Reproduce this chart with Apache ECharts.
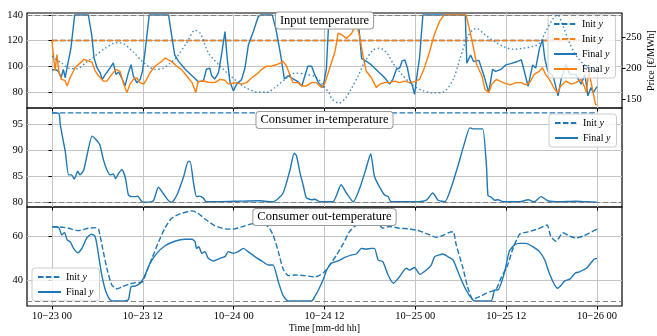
<!DOCTYPE html>
<html>
<head>
<meta charset="utf-8">
<script src="https://cdn.jsdelivr.net/npm/echarts@6/dist/echarts.min.js"></script>
<style>
  html, body { margin: 0; padding: 0; background: #fff; }
  #chart { width: 657px; height: 336px; }
</style>
</head>
<body>
<div id="chart"></div>
<script>
// Time axis: hours since 10-23 00
const xTickHours = [0, 12, 24, 36, 48, 60, 72];
const xTickLabels = ['10\u221223 00', '10\u221223 12', '10\u221224 00', '10\u221224 12', '10\u221225 00', '10\u221225 12', '10\u221226 00'];

// Axis ticks
const inputTicks = [80, 100, 120, 140];
const priceTicks = [150, 200, 250];
const inTempTicks = [80, 85, 90, 95];
const outTempTicks = [40, 60];

// Temperature bounds (dashed grey lines)
const inputUpperBound = 140;
const inTempLowerBound = 80;
const outTempLowerBound = 30;

// Input temperature, initial guess (both producers)
const inputInitH = [0, 72];
const inputInitBlueV = [120, 120];
const inputInitOrangeV = [120, 120];

// Input temperature, optimised, producer 1 (blue)
const inputFinalBlueH = [0, 0.45, 0.85, 1.2, 1.5, 1.75, 2.0, 2.2, 2.5, 3.0, 4.8, 5.25, 5.55, 5.95, 6.35, 6.65, 7.05, 7.7, 8.1, 8.45, 8.8, 9.3, 9.65, 10.1, 10.45, 10.75, 11.2, 11.65, 11.95, 12.3, 12.85, 15.4, 15.8, 16.2, 16.7, 17.6, 18.5, 19.3, 20.0, 20.4, 20.85, 21.1, 21.5, 22.0, 22.4, 22.85, 23.15, 23.5, 23.95, 24.4, 25.05, 25.5, 25.95, 26.6, 27.25, 27.6, 29.1, 29.65, 30.2, 30.7, 31.2, 31.9, 32.5, 33.0, 33.8, 34.3, 34.7, 35.2, 35.8, 36.25, 36.6, 40.4, 40.9, 41.3, 42.2, 43.05, 43.95, 44.6, 45.05, 45.5, 45.95, 46.25, 46.6, 46.95, 47.25, 47.55, 47.9, 48.15, 48.55, 49.0, 54.6, 54.8, 55.3, 55.7, 56.4, 57.1, 57.7, 58.2, 58.6, 59.3, 59.95, 60.6, 61.5, 62.0, 62.9, 63.5, 63.9, 64.4, 64.8, 65.1, 65.5, 66.2, 66.85, 67.3, 67.9, 68.4, 69.2, 69.9, 70.4, 70.8, 71.2, 71.5, 72];
const inputFinalBlueV = [97, 97.5, 96, 91, 97.5, 91, 99, 100, 114, 140, 140, 124.5, 106.5, 98.8, 95, 89.7, 93.6, 98.8, 102.6, 93.6, 95.5, 89.7, 84.6, 95, 101.2, 92.3, 87.2, 89.7, 96, 111.7, 140, 140, 124.5, 109, 104, 97.6, 92.5, 88, 88.5, 97.6, 98.5, 92.5, 90, 95, 109, 127, 106, 88, 80.8, 86, 89.7, 98.8, 116.8, 127, 138.7, 140, 140, 127, 109, 90, 92.5, 90, 88, 84.6, 100, 100, 93.6, 87.2, 83.3, 98, 140, 140, 106, 104.8, 101, 96, 91, 86, 90, 97.6, 98.8, 104, 105, 98.8, 89.7, 86, 78.1, 90, 106.4, 140, 140, 102.4, 108.8, 103.7, 104.5, 92, 79.5, 97.5, 96, 97.5, 101, 102, 103.7, 105, 84.4, 101, 98.5, 113.9, 120.7, 106, 96.2, 92.4, 76.9, 91, 101.3, 93.6, 93.6, 85.9, 93.6, 76.9, 83.3, 79.4, 84];

// Input temperature, optimised, producer 2 (orange)
const inputFinalOrangeH = [0, 0.4, 0.65, 0.9, 1.25, 1.7, 2.0, 2.4, 3.05, 3.75, 4.2, 4.85, 5.3, 5.7, 6.15, 6.8, 7.25, 7.9, 8.45, 9.0, 9.4, 9.9, 10.3, 10.75, 11.2, 11.6, 12.1, 12.5, 12.95, 13.6, 14.5, 14.95, 15.4, 16.0, 16.7, 17.1, 17.8, 18.5, 19.0, 19.3, 20.0, 20.65, 21.5, 22.2, 22.85, 23.3, 23.7, 24.4, 25.05, 25.7, 26.4, 27.0, 27.7, 28.35, 29.0, 29.7, 30.2, 30.5, 31.0, 31.4, 31.85, 32.5, 33.0, 33.6, 34.3, 34.9, 35.6, 36.0, 36.5, 36.7, 37.4, 37.8, 38.3, 38.9, 39.6, 40.2, 40.65, 41.1, 41.5, 42.2, 42.85, 43.3, 43.95, 44.6, 45.3, 45.9, 46.6, 47.25, 47.9, 48.55, 49.2, 49.9, 50.5, 51.2, 51.8, 54.7, 55.26, 55.7, 56.1, 56.8, 57.2, 57.7, 58.1, 58.7, 59.6, 60.5, 61.3, 62.0, 62.6, 63.1, 63.7, 64.4, 64.8, 65.2, 65.7, 66.4, 66.8, 67.2, 67.9, 68.6, 69.2, 69.9, 70.3, 70.6, 70.9, 71.3, 71.8, 72];
const inputFinalOrangeV = [120, 96.3, 109, 96, 89.7, 89, 84.6, 91, 98.8, 102.6, 105.2, 104, 103, 96.3, 92.5, 88.4, 88.4, 93.6, 97.5, 96, 87.2, 79.4, 86, 89.7, 91, 87.2, 86, 89.7, 94.9, 100, 103.9, 106.4, 105, 102.6, 99, 97.5, 92.4, 87.2, 79.4, 88, 88.5, 87.5, 87.2, 89.7, 89, 86, 86.5, 87.2, 86, 87.2, 91, 93.6, 97.5, 100, 100, 101.3, 102.6, 104, 100, 93.6, 87.2, 87.2, 84.6, 84.6, 87.2, 87.2, 83.3, 86, 95, 98.8, 111.7, 125.8, 124.5, 121.7, 125.8, 133.6, 123, 107.7, 96.3, 91, 83.3, 86, 87.2, 87.2, 88.4, 87.2, 88.4, 87.2, 88, 89.7, 98.8, 111.7, 124.5, 135, 140, 140, 126, 114, 101.3, 92.4, 82, 79.4, 86, 89.7, 87.2, 85.5, 87.2, 87.2, 85.5, 87.2, 93.6, 96.2, 98.8, 93.6, 89.7, 82, 79.4, 84.6, 88.4, 86, 87.2, 89.7, 84.6, 79.4, 96, 85, 70, 70];

// Electricity price (right axis)
const priceH = [0, 1.3, 2.2, 3.3, 4.6, 5.5, 7.0, 8.5, 9.5, 10.75, 12.0, 13.6, 14.7, 15.5, 16.5, 17.8, 18.9, 19.6, 20.7, 22.4, 24.0, 25.5, 27.3, 28.4, 29.5, 30.8, 32.1, 33.5, 34.8, 35.9, 36.6, 37.0, 37.9, 38.8, 39.6, 40.5, 41.3, 42.4, 43.3, 44.2, 45.1, 46.2, 47.5, 48.9, 50.4, 51.8, 53.0, 53.9, 54.8, 55.6, 56.1, 57.0, 58.2, 59.6, 60.9, 62.2, 63.5, 64.4, 65.3, 66.2, 66.8, 67.5, 68.4, 69.2, 70.1, 70.9, 72];
const priceV = [219, 208, 200, 199, 210, 218, 232, 241, 239, 226, 210, 198, 200, 207, 218, 241, 261, 256, 224, 201, 183, 169, 161, 161, 169, 182, 192, 190, 186, 171, 160, 150, 143.5, 152, 168, 189, 210, 229, 232, 225, 207, 190, 174, 164, 160, 162, 182, 215, 248, 262, 264, 256, 245, 235, 230.5, 232, 235, 240, 261, 280, 286, 268, 240, 221, 208, 200, 196];

// Consumer in-temperature
const inTempInitH = [0, 72];
const inTempInitV = [97.3, 97.3];
const inTempFinalH = [0, 0.9, 1.1, 1.5, 1.75, 2.2, 2.6, 2.95, 3.4, 3.7, 4.2, 4.6, 5.3, 5.7, 6.3, 6.8, 7.25, 7.7, 8.1, 8.4, 8.8, 9.25, 9.7, 10.1, 10.55, 11.0, 11.3, 11.9, 12.5, 13.4, 14.05, 14.7, 15.4, 15.8, 16.5, 17.4, 18.0, 18.25, 18.7, 19.1, 19.5, 20.0, 20.4, 24.2, 27.5, 28.1, 29.2, 30.5, 31.4, 32.0, 32.3, 32.75, 33.2, 33.6, 34.3, 34.7, 35.4, 37.1, 38.2, 38.9, 39.8, 40.7, 41.5, 42.1, 42.6, 43.3, 43.95, 44.4, 44.8, 48.1, 49.45, 50.3, 51.0, 51.9, 52.75, 53.6, 54.5, 55.2, 55.6, 56.3, 56.9, 57.4, 57.6, 58.0, 58.5, 58.9, 59.6, 61.8, 62.9, 63.7, 64.6, 65.5, 67.0, 69.2, 70.6, 72];
const inTempFinalV = [97.3, 97.2, 95, 91.8, 89.9, 85.3, 85.3, 84.5, 86, 85.3, 86.3, 88.9, 92.8, 92.3, 91.2, 88.2, 86.3, 85.3, 85.5, 84.6, 85.6, 86.3, 84.7, 81.4, 81.1, 81.1, 81.2, 80.1, 80, 80.3, 82.9, 81.7, 80.3, 80, 81.4, 85, 87.9, 87.9, 83.7, 81.1, 81.2, 80.8, 80.1, 80.2, 80.3, 80.2, 80.1, 81.7, 86, 89.5, 89, 85.8, 83.2, 80.9, 80.5, 80.6, 80.1, 80.1, 83.4, 81.8, 80.1, 82.9, 86.6, 89.4, 85, 82.9, 81.4, 81.1, 80.1, 80.1, 80.4, 81.8, 80.4, 80.1, 82.9, 86.9, 91.5, 94.4, 94.2, 94.2, 94.2, 86.9, 81.3, 81, 80.4, 80.5, 80.1, 80.1, 80.5, 80.1, 81.1, 80.3, 80.1, 80.2, 80.1, 80];

// Consumer out-temperature
const outTempInitH = [0, 1.1, 2.2, 3.5, 4.8, 5.8, 6.15, 6.6, 7.25, 7.9, 8.6, 9.2, 10.1, 11.0, 11.9, 12.5, 13.2, 14.1, 14.9, 15.8, 16.9, 18.5, 19.3, 20.4, 21.5, 22.85, 23.95, 25.05, 26.4, 27.5, 28.56, 29.2, 29.9, 30.5, 31.2, 32.1, 33.4, 34.7, 35.4, 36.0, 36.7, 37.6, 38.5, 39.3, 40.2, 41.3, 42.4, 43.1, 43.7, 44.6, 45.9, 47.25, 48.6, 49.9, 50.8, 51.6, 52.5, 53.0, 53.4, 54.3, 54.9, 55.6, 56.5, 57.4, 58.2, 58.7, 59.3, 60.2, 60.9, 61.8, 62.9, 64.2, 65.4, 65.9, 66.6, 67.5, 68.4, 69.2, 70.1, 71.0, 72];
const outTempInitV = [64.6, 64.5, 63.9, 62.8, 63.9, 64.2, 63.5, 56.2, 45.4, 37.7, 35.9, 36.8, 38, 38.8, 39, 43.8, 50, 57.7, 63.9, 68.5, 70.5, 71.9, 70.8, 67.7, 65.1, 63.6, 63.5, 64.5, 65.9, 66.2, 64.6, 60.8, 53.1, 45.4, 42, 42.3, 42, 41.4, 42.3, 43.8, 46.9, 51.6, 56.9, 62.3, 65.4, 67.7, 68.2, 66.2, 63.9, 64.7, 63.9, 63.6, 62.6, 60.8, 59.7, 60.5, 62, 62.3, 56.2, 45.4, 36.9, 31.1, 32.3, 33.9, 35, 35.9, 40.8, 46.9, 54.6, 61.2, 62.2, 63.6, 65.4, 60, 57.9, 61.8, 60.2, 59.4, 60.2, 61.7, 63.5];
const outTempFinalH = [0, 0.9, 1.3, 1.65, 2.0, 2.4, 2.85, 3.4, 3.95, 4.6, 5.2, 5.7, 6.15, 6.5, 7.05, 7.7, 8.35, 9.65, 10.1, 10.45, 11.0, 11.65, 12.3, 12.95, 13.85, 14.9, 16.3, 17.6, 18.5, 18.9, 19.1, 19.4, 19.8, 20.2, 20.65, 21.3, 22.2, 22.85, 23.3, 23.95, 24.6, 25.3, 25.9, 26.8, 27.7, 28.6, 29.2, 29.9, 30.5, 31.2, 34.3, 34.7, 35.2, 35.8, 36.3, 36.9, 37.8, 38.7, 39.6, 40.2, 40.9, 41.5, 42.2, 42.6, 43.1, 43.7, 44.4, 45.1, 45.9, 46.8, 47.25, 47.9, 48.6, 49.45, 50.1, 50.55, 51.2, 51.6, 52.3, 53.0, 53.8, 54.7, 55.6, 56.0, 58.0, 58.5, 58.9, 59.8, 60.4, 61.1, 61.8, 62.6, 63.5, 64.4, 65.1, 65.7, 66.4, 66.8, 67.3, 67.7, 68.4, 69.1, 69.7, 70.6, 71.6, 72];
const outTempFinalV = [64.6, 64.2, 60.8, 62, 58.5, 57.7, 54.6, 52.6, 54.6, 59.4, 61.2, 60.2, 51.6, 43.8, 35.4, 30.8, 30.3, 30.3, 31, 36.9, 37.2, 38.5, 42.3, 47.7, 52.3, 55.7, 58, 58.8, 58.8, 57.7, 54.6, 55.4, 52.3, 53.1, 50, 48.8, 50, 50.8, 53.1, 52.3, 53.1, 54.6, 53.1, 50.8, 48.8, 46.9, 46.9, 39.2, 33.1, 30.3, 30.3, 32.3, 35.4, 40, 44.6, 47.7, 48.8, 50.4, 51.6, 52, 54.6, 54.2, 54.6, 54.6, 49.2, 48.5, 42.3, 38.5, 41.5, 45.4, 44.6, 45.8, 42.6, 44.6, 46.9, 50.8, 51.6, 52, 50.8, 49.2, 42.3, 35.4, 30.8, 30.3, 30.3, 35.4, 35.4, 43.8, 53.1, 56.2, 56.9, 56.9, 55.4, 53.1, 49.2, 43.1, 37.7, 36.2, 37.7, 39.5, 40.4, 43.1, 43.8, 45.4, 49.6, 50];

const BLUE = '#1f77b4';
const ORANGE = '#ff7f0e';
const FONT = '"Liberation Serif", "DejaVu Serif", serif';
const GRID_COLOR = '#c4c4c4';

const zip = (h, v) => h.map((t, i) => [t, v[i]]);

const legendNames = {
  inInitBlue: 'Init {it|y}', inInitOrange: 'Init {it|y}',
  inFinalBlue: 'Final {it|y}', inFinalOrange: 'Final {it|y}',
  ctInInit: 'Init {it|y}', ctInFinal: 'Final {it|y}',
  ctOutInit: 'Init {it|y}', ctOutFinal: 'Final {it|y}'
};

function boundLine(value) {
  return {
    silent: true, symbol: 'none', animation: false,
    label: { show: false },
    lineStyle: { color: '#808080', type: [5, 3], width: 1.2 },
    data: [{ yAxis: value }]
  };
}

function lineSeries(name, h, v, color, dash, xi, yi, extra) {
  return Object.assign({
    name, type: 'line', xAxisIndex: xi, yAxisIndex: yi,
    data: zip(h, v), showSymbol: false, symbol: 'none',
    animation: false, z: 2,
    lineStyle: { color, width: 1.4, type: dash },
    itemStyle: { color }
  }, extra || {});
}

const xBase = {
  type: 'value', min: -3.3, max: 75.3,
  axisLine: { show: false },
  axisTick: { show: true, length: 3.5, lineStyle: { color: '#000' }, customValues: xTickHours },
  splitLine: { show: true, lineStyle: { color: GRID_COLOR, width: 1 } },
  axisLabel: {
    show: false, customValues: xTickHours,
    formatter: v => xTickLabels[xTickHours.indexOf(v)] || ''
  }
};

function yBase(grid, min, max, ticks, extra) {
  return Object.assign({
    type: 'value', gridIndex: grid, min, max,
    axisLine: { show: false },
    axisTick: { show: true, length: 3.5, lineStyle: { color: '#000' }, customValues: ticks },
    splitLine: { show: true, lineStyle: { color: GRID_COLOR, width: 1 } },
    axisLabel: { customValues: ticks, fontFamily: FONT, fontSize: 10.5, color: '#000', margin: 4 }
  }, extra || {});
}

function legendBox(keys, left, top) {
  return {
    data: keys, left, top, orient: 'vertical',
    itemWidth: 23, itemHeight: 10, itemGap: 5,
    padding: [4, 6, 4, 5],
    backgroundColor: 'rgba(255,255,255,0.8)',
    borderColor: '#cccccc', borderWidth: 1, borderRadius: 3,
    selectedMode: false, z: 4,
    itemStyle: { opacity: 0 },
    formatter: n => legendNames[n],
    textStyle: {
      fontFamily: FONT, fontSize: 10, color: '#000',
      rich: { it: { fontFamily: FONT, fontSize: 10, fontStyle: 'italic', color: '#000' } }
    }
  };
}

function panelTitle(text, y) {
  return {
    type: 'text', x: 324.5, y, z: 100, silent: true,
    style: {
      text, font: '12.5px ' + FONT, fill: '#000',
      align: 'center', verticalAlign: 'middle',
      backgroundColor: '#fff', borderColor: '#9a9a9a', borderWidth: 1,
      borderRadius: 3, padding: [2, 4, 1, 4]
    }
  };
}

function gridBox(top, height) {
  return {
    left: 27, right: 35, top, height, outerBoundsMode: 'none', containLabel: false,
    show: true, borderColor: '#000', borderWidth: 1.2, backgroundColor: 'transparent'
  };
}

const chart = echarts.init(document.getElementById('chart'), null, { renderer: 'canvas' });
chart.setOption({
  animation: false,
  backgroundColor: '#fff',
  grid: [gridBox(13, 95), gridBox(108, 99), gridBox(207, 99)],
  xAxis: [
    Object.assign({}, xBase, { gridIndex: 0 }),
    Object.assign({}, xBase, { gridIndex: 1 }),
    Object.assign({}, xBase, {
      gridIndex: 2,
      axisLabel: Object.assign({}, xBase.axisLabel, { show: true, fontFamily: FONT, fontSize: 10.5, color: '#000', margin: 5 }),
      name: 'Time [mm-dd hh]', nameLocation: 'middle', nameGap: 17, nameMoveOverlap: false,
      nameTextStyle: { fontFamily: FONT, fontSize: 10, color: '#000' }
    })
  ],
  yAxis: [
    yBase(0, 67.4, 141.5, inputTicks),
    yBase(0, 135.6, 289, priceTicks, {
      position: 'right', splitLine: { show: false },
      name: 'Price [\u20ac/MWh]', nameLocation: 'middle', nameRotate: 90, nameGap: 24, nameMoveOverlap: false,
      nameTextStyle: { fontFamily: FONT, fontSize: 10, color: '#000' }
    }),
    yBase(1, 79.09, 98.24, inTempTicks),
    yBase(2, 28.0, 73.7, outTempTicks)
  ],
  legend: [
    legendBox(['inInitBlue', 'inInitOrange', 'inFinalBlue', 'inFinalOrange'], 548, 15),
    legendBox(['ctInInit', 'ctInFinal'], 549, 114),
    legendBox(['ctOutInit', 'ctOutFinal'], 32, 268)
  ],
  graphic: [
    panelTitle('Input temperature', 20.5),
    panelTitle('Consumer in-temperature', 120),
    panelTitle('Consumer out-temperature', 217)
  ],
  series: [
    lineSeries('inInitBlue', inputInitH, inputInitBlueV, BLUE, [5.5, 2.4], 0, 0, { markLine: boundLine(inputUpperBound) }),
    lineSeries('inInitOrange', inputInitH, inputInitOrangeV, ORANGE, [5.5, 2.4], 0, 0),
    lineSeries('inFinalBlue', inputFinalBlueH, inputFinalBlueV, BLUE, 'solid', 0, 0),
    lineSeries('inFinalOrange', inputFinalOrangeH, inputFinalOrangeV, ORANGE, 'solid', 0, 0),
    lineSeries('price', priceH, priceV, BLUE, [1.5, 2.5], 0, 1, { z: 6, smooth: 0.3, lineStyle: { color: BLUE, width: 1.4, type: [1.5, 2.5], opacity: 0.85 } }),
    lineSeries('ctInInit', inTempInitH, inTempInitV, BLUE, [5.5, 2.4], 1, 2, { markLine: boundLine(inTempLowerBound) }),
    lineSeries('ctInFinal', inTempFinalH, inTempFinalV, BLUE, 'solid', 1, 2, { smooth: 0.2 }),
    lineSeries('ctOutInit', outTempInitH, outTempInitV, BLUE, [5.5, 2.4], 2, 3, { smooth: 0.2, markLine: boundLine(outTempLowerBound) }),
    lineSeries('ctOutFinal', outTempFinalH, outTempFinalV, BLUE, 'solid', 2, 3, { smooth: 0.2 })
  ]
});
</script>
</body>
</html>
